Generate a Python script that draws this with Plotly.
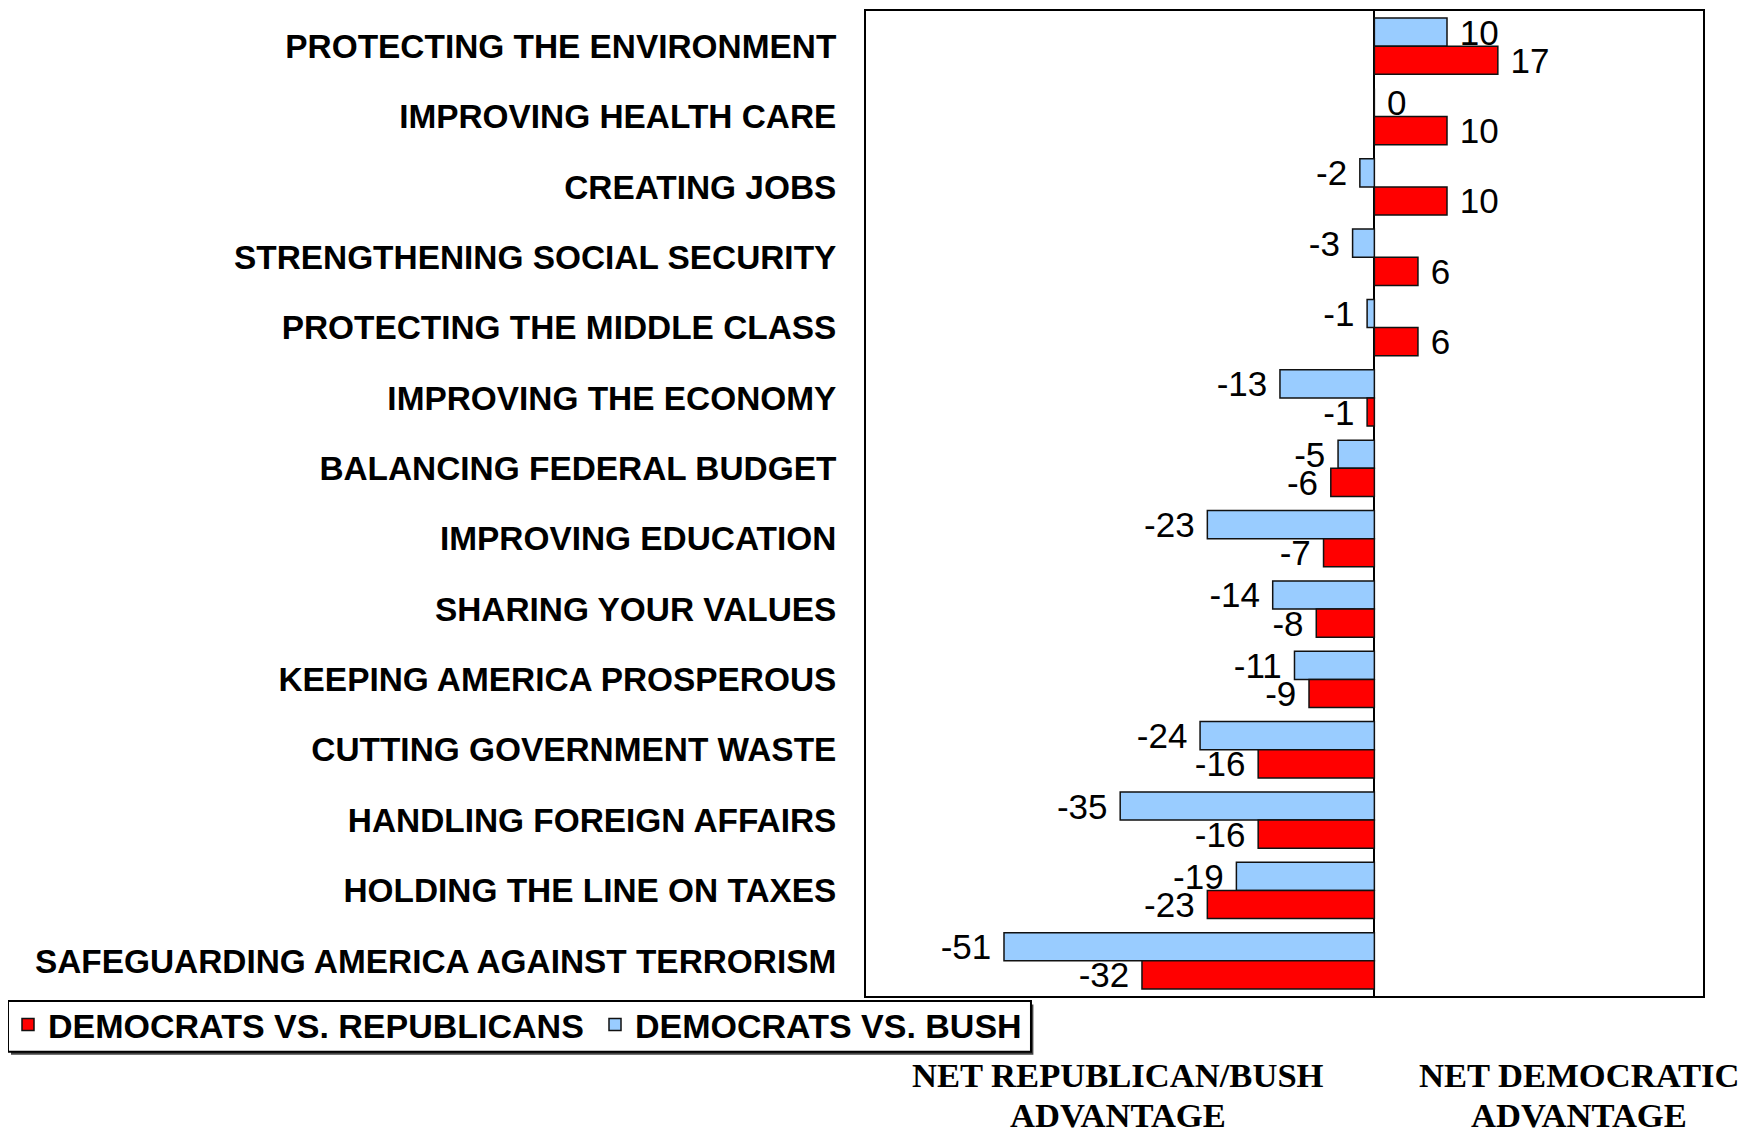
import plotly.graph_objects as go

categories = [
    "PROTECTING THE ENVIRONMENT",
    "IMPROVING HEALTH CARE",
    "CREATING JOBS",
    "STRENGTHENING SOCIAL SECURITY",
    "PROTECTING THE MIDDLE CLASS",
    "IMPROVING THE ECONOMY",
    "BALANCING FEDERAL BUDGET",
    "IMPROVING EDUCATION",
    "SHARING YOUR VALUES",
    "KEEPING AMERICA PROSPEROUS",
    "CUTTING GOVERNMENT WASTE",
    "HANDLING FOREIGN AFFAIRS",
    "HOLDING THE LINE ON TAXES",
    "SAFEGUARDING AMERICA AGAINST TERRORISM",
]
dem_vs_rep = [17, 10, 10, 6, 6, -1, -6, -7, -8, -9, -16, -16, -23, -32]
dem_vs_bush = [10, 0, -2, -3, -1, -13, -5, -23, -14, -11, -24, -35, -19, -51]

series_names = ["DEMOCRATS VS. REPUBLICANS", "DEMOCRATS VS. BUSH"]
footer_left = ["NET REPUBLICAN/BUSH", "ADVANTAGE"]
footer_right = ["NET DEMOCRATIC", "ADVANTAGE"]

SANS = "Liberation Sans, Arial, sans-serif"
SERIF = "Liberation Serif, Times New Roman, serif"


def labels(vals):
    return [f" {v}" if v >= 0 else f"{v} " for v in vals]


fig = go.Figure()
fig.add_trace(go.Bar(
    y=categories, x=dem_vs_bush, orientation="h", name=series_names[1],
    marker=dict(color="#99CCFF", line=dict(color="#111111", width=1.5)),
    text=labels(dem_vs_bush), textposition="outside", cliponaxis=False,
    textfont=dict(family=SANS, size=35, color="black"),
    legendrank=2,
))
fig.add_trace(go.Bar(
    y=categories, x=dem_vs_rep, orientation="h", name=series_names[0],
    marker=dict(color="#FF0000", line=dict(color="#111111", width=1.5)),
    text=labels(dem_vs_rep), textposition="outside", cliponaxis=False,
    textfont=dict(family=SANS, size=35, color="black"),
    legendrank=1,
))

# page body has an 8px margin, so the figure is 8px smaller and margins shifted
fig.update_layout(
    width=1744, height=1124,
    margin=dict(l=858, r=49, t=1, b=136),
    paper_bgcolor="white", plot_bgcolor="white",
    barmode="group", bargap=0.2, bargroupgap=0,
    showlegend=True,
    legend=dict(
        orientation="h", x=-1.0251, y=0, xanchor="left", yanchor="top",
        borderwidth=0, bgcolor="rgba(0,0,0,0)",
        font=dict(family=SANS, size=34, color="black", weight="bold"),
        itemwidth=30, entrywidth=542, entrywidthmode="pixels",
    ),
    xaxis=dict(
        range=[-70, 45.25], showgrid=False, showticklabels=False, ticks="",
        zeroline=True, zerolinecolor="black", zerolinewidth=1.5,
        showline=True, linecolor="black", linewidth=2, mirror=True,
        fixedrange=True,
    ),
    yaxis=dict(
        autorange="reversed", showgrid=False, ticks="",
        showline=True, linecolor="black", linewidth=2, mirror=True,
        tickfont=dict(family=SANS, size=33.4, color="black", weight="bold"),
        ticklabelstandoff=21, automargin=False,
    ),
)
fig.update_traces(constraintext="none")

# legend frame (with a slight drop shadow like the original)
fig.add_shape(type="rect", xref="paper", yref="paper",
              x0=-1.0215, x1=0.2000, y0=-0.0086, y1=-0.0597,
              line=dict(width=0), fillcolor="#444444", layer="below")
fig.add_shape(type="rect", xref="paper", yref="paper",
              x0=-1.0251, x1=0.1971, y0=-0.0051, y1=-0.0567,
              line=dict(color="black", width=2), fillcolor="white", layer="below")

for lines, xp in [(footer_left, 0.301), (footer_right, 0.852)]:
    for txt, yp in zip(lines, [-0.080, -0.1205]):
        fig.add_annotation(
            text=txt, xref="paper", yref="paper", x=xp, y=yp,
            xanchor="center", yanchor="middle", showarrow=False, align="center",
            font=dict(family=SERIF, size=34.6, color="black", weight="bold"),
        )

fig.write_html("out.html")
